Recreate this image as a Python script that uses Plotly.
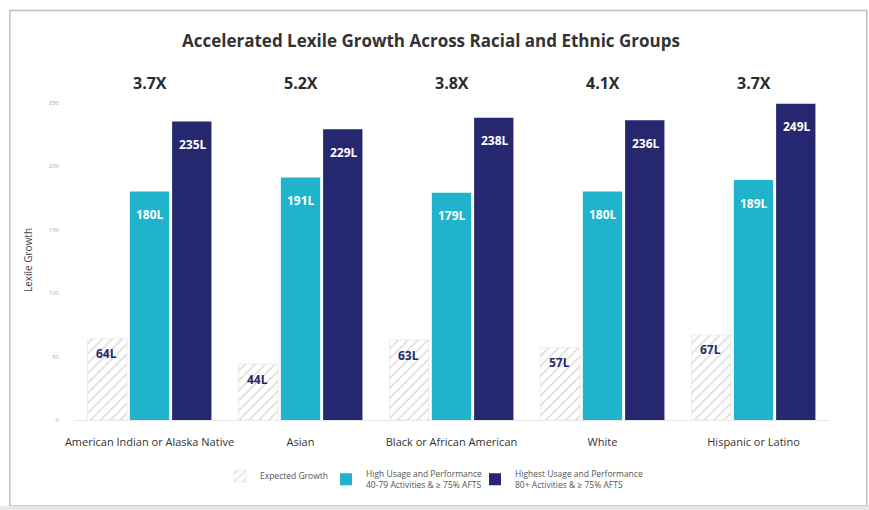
import plotly.graph_objects as go

categories = ["American Indian or Alaska Native", "Asian", "Black or African American", "White", "Hispanic or Latino"]
expected = [64, 44, 63, 57, 67]
high = [180, 191, 179, 180, 189]
highest = [235, 229, 238, 236, 249]
multipliers = ["3.7X", "5.2X", "3.8X", "4.1X", "3.7X"]
y_ticks = [0, 50, 100, 150, 200, 250]

CYAN = "#1fb4cb"
NAVY = "#26286f"
FONT = "Open Sans"

fig = go.Figure()
fig.add_trace(go.Bar(
    x=categories, y=expected, name="Expected Growth", legend="legend",
    marker=dict(color="white", line=dict(color="#e6e2de", width=0.6),
                pattern=dict(shape="/", fgcolor="#a39b94", bgcolor="white", size=7, solidity=0.17)),
    hoverinfo="skip"))
fig.add_trace(go.Bar(
    x=categories, y=high, name="High Usage and Performance<br>40-79 Activities & ≥ 75% AFTS", legend="legend2",
    marker=dict(color=CYAN, line=dict(width=0)), hoverinfo="skip"))
fig.add_trace(go.Bar(
    x=categories, y=highest, name="Highest Usage and Performance<br>80+ Activities & ≥ 75% AFTS", legend="legend3",
    marker=dict(color=NAVY, line=dict(width=0)), hoverinfo="skip"))

annotations = []
for i, c in enumerate(categories):
    for vals, shift, col, ysh in ((expected, -43, NAVY, -15), (high, 0, "white", -23), (highest, 43, "white", -23)):
        annotations.append(dict(x=c, y=vals[i], xref="x", yref="y", text=f"{vals[i]}L",
                                showarrow=False, xshift=shift, yshift=ysh,
                                font=dict(family=FONT, size=12, color=col, weight="bold")))
    annotations.append(dict(x=c, y=1.0, xref="x", yref="paper", yshift=30, text=multipliers[i],
                            showarrow=False, font=dict(family=FONT, size=16, color="#2b2b2b", weight="bold")))

annotations.append(dict(x=0.5, y=1.0, xref="paper", yref="paper", xshift=-21, yshift=60,
                        text="Accelerated Lexile Growth Across Racial and Ethnic Groups",
                        showarrow=False, yanchor="middle",
                        font=dict(family=FONT, size=17, color="#333333", weight="bold")))

shapes = [
    dict(type="rect", xref="paper", yref="paper", x0=-0.085, x1=1.05, y0=-0.269, y1=1.28,
         line=dict(color="#bdbdbd", width=1.5), fillcolor="rgba(0,0,0,0)", layer="below"),
    dict(type="rect", xref="paper", yref="paper", x0=-0.1, x1=1.06, y0=-0.30, y1=-0.269,
         line=dict(width=0), fillcolor="#e6e6ec", layer="below"),
]

def leg(px):
    return dict(orientation="h", x=(px - 74) / 755, xanchor="left", y=-0.13, yanchor="top",
                font=dict(family=FONT, size=8.5, color="#555555"), itemwidth=30,
                bgcolor="rgba(0,0,0,0)")

fig.update_layout(
    width=869, height=510,
    margin=dict(l=74, r=40, t=100, b=90, autoexpand=False),
    paper_bgcolor="white", plot_bgcolor="white",
    barmode="group", bargap=0.16, bargroupgap=0.07,
    font=dict(family=FONT, color="#333333"),
    showlegend=True,
    legend=leg(220), legend2=leg(326), legend3=leg(475),
    xaxis=dict(showline=False, ticks="", tickfont=dict(family=FONT, size=11, color="#333333"),
               ticklabelstandoff=14, automargin=False, fixedrange=True),
    yaxis=dict(range=[0, 252], tickvals=y_ticks, showgrid=False, zeroline=True,
               zerolinecolor="#eaeaea", zerolinewidth=1,
               tickfont=dict(family=FONT, size=6, color="#aaaaaa"),
               ticklabelstandoff=14, automargin=False,
               title=dict(text="Lexile Growth", font=dict(family=FONT, size=10, color="#444444"), standoff=14),
               ticks="", fixedrange=True),
    annotations=annotations,
    shapes=shapes,
)

fig.write_html("out.html", config={"displayModeBar": False},
               post_script="document.body.style.margin='0';")
